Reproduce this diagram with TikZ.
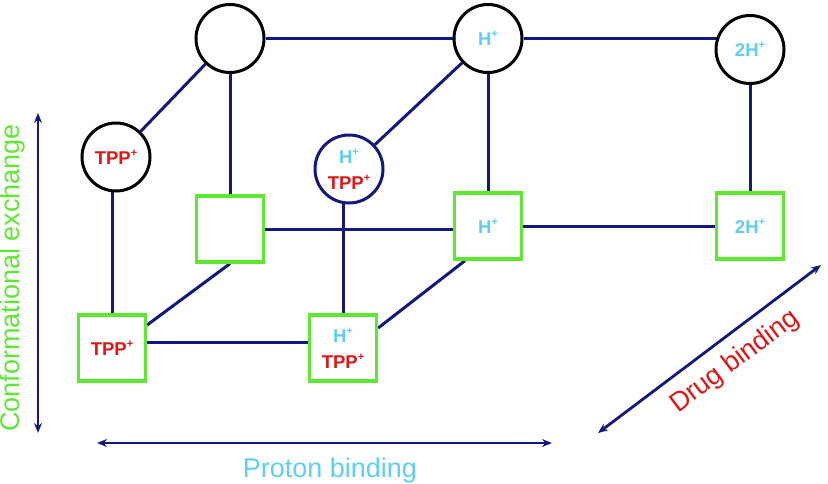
\documentclass[tikz,border=0pt]{standalone}
\usepackage{fontspec}
\setmainfont{Liberation Sans}
\usetikzlibrary{arrows.meta,backgrounds,calc}
\definecolor{navy}{RGB}{18,24,125}
\definecolor{sqgreen}{RGB}{95,232,50}
\definecolor{hblue}{RGB}{95,205,245}
\definecolor{tppred}{RGB}{222,22,22}
\newcommand\plusup{\raisebox{0.42em}{\fontsize{11}{11}\selectfont +}}
\newcommand\Hp{{\color{hblue}H\plusup}}
\newcommand\HHp{{\color{hblue}2H\plusup}}
\newcommand\Tp{{\color{tppred}TPP\plusup}}
\begin{document}
\begin{tikzpicture}[x=1pt,y=-1pt,
  st/.style={circle,draw=black,line width=3pt,fill=white,minimum size=68pt,inner sep=0pt,
    font=\fontsize{18.5}{26}\selectfont\bfseries,align=center},
  sq/.style={rectangle,draw=sqgreen,line width=3.3pt,fill=white,minimum width=67pt,minimum height=66pt,inner sep=0pt,
    font=\fontsize{18.5}{26}\selectfont\bfseries,align=center},
  con/.style={draw=navy,line width=3pt},
  axis/.style={draw=navy,line width=2.8pt,{Stealth[length=10pt,width=8pt]}-{Stealth[length=10pt,width=8pt]}},
  lab/.style={font=\fontsize{27}{27}\selectfont,inner sep=0pt}]
\useasboundingbox (0,0) rectangle (828,483);
% circles
\node[st] (c0) at (230,38.5) {};
\node[st] (c1) at (488,38.5) {\Hp};
\node[st] (c2) at (750,49.5) {\HHp};
\node[st] (c3) at (116,157) {\Tp};
\node[st,draw=navy] (c4) at (349,169) {\Hp\\\Tp};
% squares
\node[sq] (s0) at (230,229) {};
\node[sq] (s1) at (488,226) {\Hp};
\node[sq] (s2) at (750,226) {\HHp};
\node[sq] (s3) at (112,348) {\Tp};
\node[sq] (s4) at (343,348) {\Hp\\\Tp};
% connectors
\begin{pgfonlayer}{background}
\draw[con] (c0) -- (c0 -| c1);
\draw[con] (c1) -- (c1 -| c2);
\draw[con] (c0) -- (c3);
\draw[con] (c0) -- (s0);
\draw[con] ($(c4)+(0,-2)$ -| c3) -- ($(c4)+(0,-2)$);
\draw[con] (s3 |- c3) -- (s3);
\draw[con] (c4) -- (c1);
\draw[con] (s4 |- c4) -- (s4);
\draw[con] (c1) -- (s1);
\draw[con] (c2) -- (s2);
\draw[con] (s0) -- (s0 -| s1);
\draw[con] (s0.south) -- ($(s3.east)+(0,-23)$);
\draw[con] (s1) -- (s2 |- s1);
\draw[con] ($(s3)+(0,-6)$) -- ($(s4)+(0,-6)$);
\draw[con] ($(s4.east)+(0,-20)$) -- ($(s1.south)+(-23,0)$);
\end{pgfonlayer}
% axes
\coordinate (v0) at (38,113);
\coordinate (v1) at (38,433);
\coordinate (h0) at (97,443);
\coordinate (h1) at (552,443);
\coordinate (d0) at (598,433);
\coordinate (d1) at (821,265);
\draw[axis] (v0) -- (v1);
\draw[axis] (h0) -- (h1);
\draw[axis] (d0) -- (d1);
\node[lab,text=sqgreen,rotate=90] (lc) at (13,278) {Conformational exchange};
\node[lab,text=hblue,anchor=base] (lp) at (330,477) {Proton binding};
\node[lab,text=tppred,rotate=37] (ld) at (735,362) {Drug binding};
\end{tikzpicture}
\end{document}
